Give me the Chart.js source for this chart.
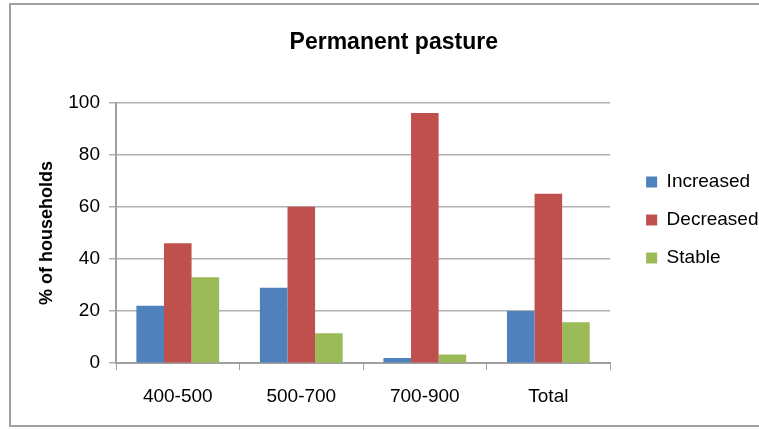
<!DOCTYPE html>
<html>
<head>
<meta charset="utf-8">
<script src="https://cdn.jsdelivr.net/npm/chart.js@4/dist/chart.umd.min.js"></script>
<style>
  html, body { margin: 0; padding: 0; background: #fff; }
  #wrap { position: relative; width: 759px; height: 430px; overflow: hidden; }
  #frame { position: absolute; left: 9px; top: 3px; width: 780px; height: 424px; border: 2px solid #a0a0a0; box-sizing: border-box; }
  canvas { position: absolute; left: 0; top: 0; }
</style>
</head>
<body>
<div id="wrap">
  <div id="frame"></div>
  <canvas id="c" width="759" height="430"></canvas>
</div>
<script>
const categories = ["400-500", "500-700", "700-900", "Total"];
const increased = [22, 29, 2, 20];
const decreased = [46, 60, 96, 65];
const stable = [33, 11.5, 3.3, 15.7];
const yTicks = [0, 20, 40, 60, 80, 100];

const FONT = "'Liberation Sans', Arial, sans-serif";

// shift the library-drawn legend after layout, so the plot keeps its width
const legendShift = {
  id: 'legendShift',
  afterLayout(chart) {
    const lg = chart.legend;
    if (!lg) return;
    lg.left += 17; lg.right += 17;
    lg.top -= 6; lg.bottom -= 6;
  }
};

new Chart(document.getElementById('c'), {
  type: 'bar',
  data: {
    labels: categories,
    datasets: [
      { label: 'Increased', data: increased, backgroundColor: '#4F81BD' },
      { label: 'Decreased', data: decreased, backgroundColor: '#C0504D' },
      { label: 'Stable', data: stable, backgroundColor: '#9BBB59' }
    ]
  },
  plugins: [legendShift],
  options: {
    responsive: false,
    animation: false,
    devicePixelRatio: 1,
    datasets: { bar: { barPercentage: 1, categoryPercentage: 0.67 } },
    layout: { padding: { left: 36, right: 7.5, top: 29, bottom: 7 } },
    plugins: {
      title: {
        display: true,
        text: 'Permanent pasture',
        color: '#000',
        font: { family: FONT, size: 23, weight: 'bold' },
        padding: { top: 0, bottom: 46 }
      },
      legend: {
        position: 'right',
        align: 'center',
        labels: {
          color: '#000',
          font: { family: FONT, size: 19 },
          boxWidth: 11,
          boxHeight: 11,
          padding: 19
        }
      },
      tooltip: { enabled: false }
    },
    scales: {
      x: {
        grid: { display: true, drawOnChartArea: false, drawTicks: true, tickLength: 7, color: '#a0a0a0', offset: true },
        border: { display: true, color: '#a0a0a0', width: 2 },
        ticks: { color: '#000', font: { family: FONT, size: 19 }, padding: 15 }
      },
      y: {
        min: 0, max: 100,
        afterBuildTicks: (s) => { s.ticks = yTicks.map(v => ({ value: v })); },
        afterFit: (s) => { s.width = 80; },
        grid: { color: '#b0b0b0', lineWidth: 1.5, tickLength: 7 },
        border: { display: true, color: '#a0a0a0', width: 2 },
        ticks: { color: '#000', font: { family: FONT, size: 19 }, padding: 9 },
        title: {
          display: true,
          text: '% of households',
          color: '#000',
          font: { family: FONT, size: 18, weight: 'bold' },
          padding: { top: 0, bottom: 8 }
        }
      }
    }
  }
});
</script>
</body>
</html>
